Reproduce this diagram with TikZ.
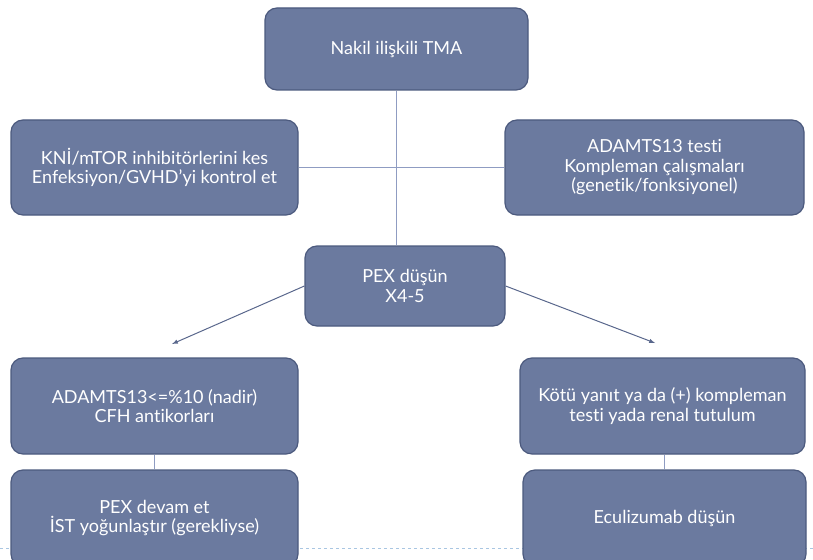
\documentclass[tikz,border=0pt]{standalone}
\usepackage{fontspec}
\setmainfont[RawFeature=-liga]{Lato}
\usetikzlibrary{arrows.meta,positioning}
\definecolor{boxfill}{HTML}{6B7A9F}
\definecolor{boxline}{HTML}{4C5A7E}
\definecolor{linkcol}{HTML}{8F9CC2}
\definecolor{footcol}{HTML}{A9C6E2}

\begin{document}
\begin{tikzpicture}[x=1pt, y=-1pt,
    box/.style={draw=boxline, line width=1.2pt, fill=boxfill, rounded corners=12pt,
        text=white, align=center, font=\fontsize{18}{19.5}\selectfont, inner sep=0pt},
    link/.style={draw=linkcol, line width=1pt},
    flow/.style={draw=boxline!80!linkcol, line width=1pt, -latex}]
    \useasboundingbox (0,0) rectangle (813,559);
    \draw[footcol, dashed, line width=0.8pt] (0,548) -- (813,548);

    \node[box, minimum width=263pt, minimum height=82pt] (tma) at (396.5,49) {Nakil ilişkili TMA};
    \node[box, minimum width=287pt, minimum height=95pt] (stop) at (154.5,167.5) {KNİ/mTOR inhibitörlerini kes\\Enfeksiyon/GVHD’yi kontrol et};
    \node[box, minimum width=299pt, minimum height=95pt] (test) at (654.5,167.5) {ADAMTS13 testi\\Kompleman çalışmaları\\(genetik/fonksiyonel)};
    \node[box, minimum width=200pt, minimum height=80pt] (pex) at (405,286) {PEX düşün\\X4-5};

    \node[box, minimum width=287pt, minimum height=96pt] (low) at (154.5,406) {ADAMTS13<=\%10 (nadir)\\CFH antikorları};
    \node[box, minimum width=287pt, minimum height=96pt] (cont) at (154.5,518) {PEX devam et\\İST yoğunlaştır (gerekliyse)};
    \node[box, minimum width=285pt, minimum height=96pt] (bad) at (662.5,406) {Kötü yanıt ya da (+) kompleman\\testi yada renal tutulum};
    \node[box, minimum width=283pt, minimum height=96pt] (ecu) at (664.5,518) {Eculizumab düşün};

    \coordinate (lefttip) at (172,344);
    \coordinate (righttip) at (655,343);

    \draw[link] (stop.east) -- (test.west);
    \draw[link] (tma.south) -- (tma.south |- pex.north);
    \draw[link] (low.south) -- (cont.north);
    \draw[link] (bad.south -| ecu.north) -- (ecu.north);
    \draw[flow] (pex.west) -- (lefttip);
    \draw[flow] (pex.east) -- (righttip);
\end{tikzpicture}
\end{document}
